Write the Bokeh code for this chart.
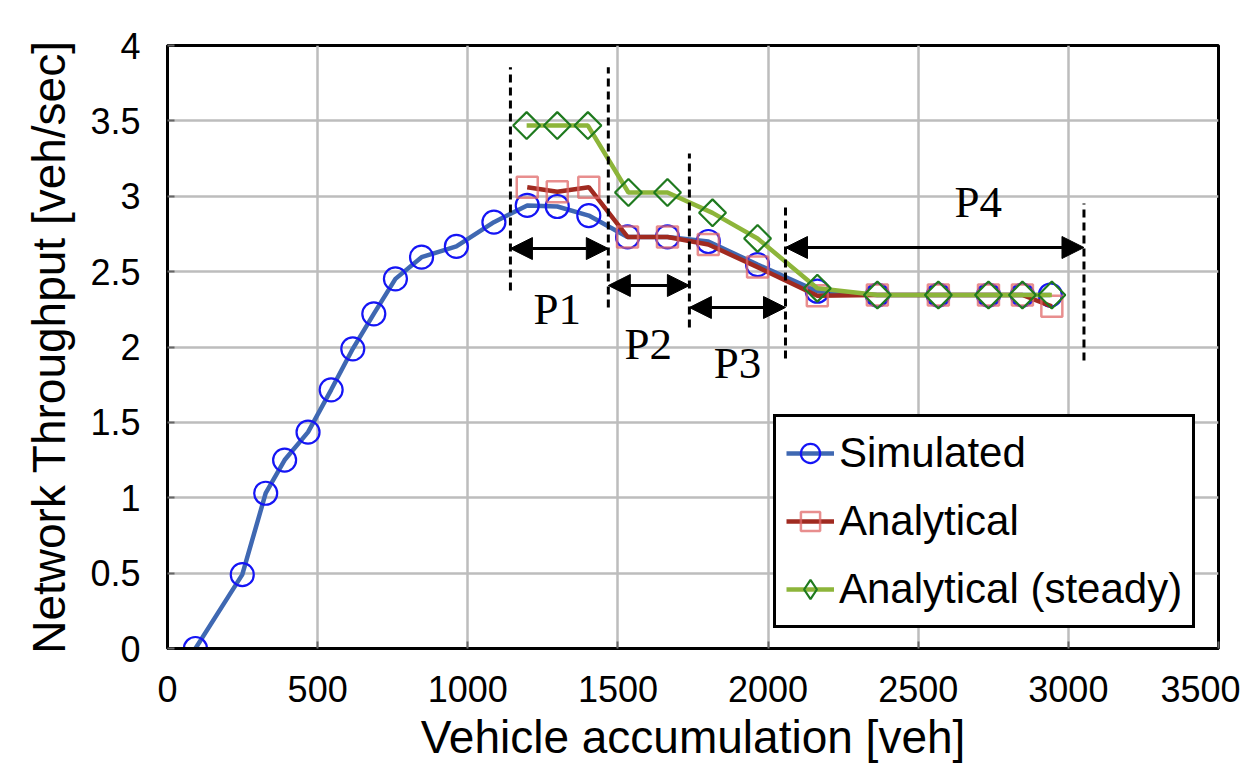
from bokeh.plotting import figure
from bokeh.models import (Range1d, FixedTicker, Legend, LegendItem, Arrow, NormalHead,
                          ColumnDataSource)
from bokeh.core.properties import value
from bokeh.embed import file_html
from bokeh.resources import INLINE
import numpy as np

# ---------------- data ----------------
sim_x = [93, 249, 327, 390, 468, 545, 617, 687, 759, 846, 962, 1087, 1198, 1298, 1403,
         1532, 1665, 1801, 1965, 2164, 2364, 2567, 2734, 2847, 2940]
sim_y = [0.0, 0.49, 1.03, 1.25, 1.435, 1.716, 1.988, 2.22, 2.452, 2.596, 2.667, 2.828,
         2.939, 2.932, 2.872, 2.73, 2.73, 2.70, 2.547, 2.37, 2.345, 2.345, 2.345, 2.345, 2.345]

ana_x = [1198, 1298, 1403, 1532, 1665, 1801, 1965, 2164, 2364, 2567, 2734, 2847, 2945]
ana_y = [3.06, 3.03, 3.06, 2.73, 2.73, 2.68, 2.53, 2.34, 2.345, 2.345, 2.345, 2.345, 2.27]

std_x = [1196, 1298, 1400, 1535, 1665, 1815, 1965, 2164, 2364, 2567, 2734, 2847, 2945]
std_y = [3.469, 3.469, 3.469, 3.025, 3.025, 2.89, 2.72, 2.39, 2.345, 2.345, 2.345, 2.345, 2.345]

x_ticks = [0, 500, 1000, 1500, 2000, 2500, 3000, 3500]
y_ticks = [0, 0.5, 1, 1.5, 2, 2.5, 3, 3.5, 4]
y_tick_labels = ["0", "0.5", "1", "1.5", "2", "2.5", "3", "3.5", "4"]

period_x = [1142, 1468, 1738, 2058, 3052]
dash_top = [3.855, 3.855, 3.283, 2.952, 2.952]
dash_bottom = [2.375, 2.262, 2.13, 1.924, 1.91]
arrow_y = [2.653, 2.408, 2.262, 2.66]
period_labels = ["P1", "P2", "P3", "P4"]
label_x = [1298, 1601, 1898, 2700]
label_y = [2.255, 2.017, 1.897, 2.965]

series_names = ["Simulated", "Analytical", "Analytical (steady)"]

# ---------------- figure ----------------
FONT = "Liberation Sans"
p = figure(width=1240, height=772, output_backend="svg", toolbar_location=None,
           x_range=Range1d(0, 3500), y_range=Range1d(0, 4),
           min_border_left=167, min_border_right=22, min_border_top=45, min_border_bottom=124)
p.background_fill_color = "white"
p.border_fill_color = "white"
p.outline_line_color = "black"
p.outline_line_width = 3

p.xaxis.ticker = FixedTicker(ticks=x_ticks)
p.yaxis.ticker = FixedTicker(ticks=y_ticks)
p.yaxis.major_label_overrides = {t: l for t, l in zip(y_ticks, y_tick_labels)}
p.xaxis.major_label_overrides = {t: str(t) for t in x_ticks}

for ax in (p.xaxis, p.yaxis):
    ax.axis_line_color = "black"
    ax.axis_line_width = 3
    ax.major_tick_in = 7
    ax.major_tick_out = 0
    ax.major_tick_line_color = "#666666"
    ax.major_tick_line_width = 2
    ax.minor_tick_line_color = None
    ax.major_label_text_font = FONT
    ax.major_label_text_font_size = "36px"
    ax.major_label_text_color = "black"
    ax.axis_label_text_font = FONT
    ax.axis_label_text_font_size = "46px"
    ax.axis_label_text_font_style = "normal"
    ax.axis_label_text_color = "black"

p.xaxis.axis_label = "Vehicle accumulation [veh]"
p.yaxis.axis_label = "Network Throughput [veh/sec]"
p.xaxis.major_label_standoff = 27
p.xaxis.axis_label_standoff = 6
p.yaxis.major_label_standoff = 27
p.yaxis.axis_label_standoff = 12

p.grid.grid_line_color = "#BDBDBD"
p.grid.grid_line_width = 2.5

# ---------------- series ----------------
l_sim = p.line(sim_x, sim_y, line_color="#3F68B2", line_width=4.5)
m_sim = p.scatter(sim_x, sim_y, marker="circle", size=23, fill_color=None,
                  line_color="#1515F5", line_width=2.2)

l_ana = p.line(ana_x, ana_y, line_color="#A02A20", line_width=4.5)
m_ana = p.scatter(ana_x, ana_y, marker="square", size=21, fill_color=None,
                  line_color="#E06868", line_alpha=0.75, line_width=2.5)

l_std = p.line(std_x, std_y, line_color="#8DB53A", line_width=4.5)
m_std = p.scatter(std_x, std_y, marker="square", angle=np.pi / 4, size=19, fill_color=None,
                  line_color="#1F7A1F", line_width=2.2)
# legend-only diamond glyph (hidden in the plot, shown in the legend)
m_std_leg = p.scatter(std_x, std_y, marker="diamond", size=30, fill_color=None,
                      line_color="#1F7A1F", line_width=2.2, visible=False)

# ---------------- period annotations ----------------
p.segment(x0=period_x, y0=dash_bottom, x1=period_x, y1=dash_top,
          line_color="black", line_width=3, line_dash="8 5")

arrow_src = ColumnDataSource(dict(x0=period_x[:-1], x1=period_x[1:], y=arrow_y))
p.add_layout(Arrow(start=NormalHead(size=22, fill_color="black", line_color="black"),
                   end=NormalHead(size=22, fill_color="black", line_color="black"),
                   x_start="x0", y_start="y", x_end="x1", y_end="y", source=arrow_src,
                   line_color="black", line_width=3))

p.text(x=label_x, y=label_y, text=period_labels, text_font=value("Liberation Serif"),
       text_font_size="45px", text_align="center", text_baseline="middle",
       text_color="black")

# ---------------- legend ----------------
legend = Legend(items=[LegendItem(label=series_names[0], renderers=[l_sim, m_sim]),
                       LegendItem(label=series_names[1], renderers=[l_ana, m_ana]),
                       LegendItem(label=series_names[2], renderers=[l_std, m_std_leg])],
                location=(606, 20))
legend.label_text_font = FONT
legend.label_text_font_size = "42px"
legend.label_text_color = "black"
legend.glyph_width = 48
legend.glyph_height = 52
legend.label_height = 52
legend.label_standoff = 5
legend.spacing = 16
legend.padding = 10
legend.margin = 0
legend.inactive_fill_alpha = 0
legend.border_line_color = "black"
legend.border_line_alpha = 1
legend.border_line_width = 3
legend.background_fill_color = "white"
legend.background_fill_alpha = 1
p.add_layout(legend, "center")

open("out.html", "w").write(file_html(p, INLINE))
